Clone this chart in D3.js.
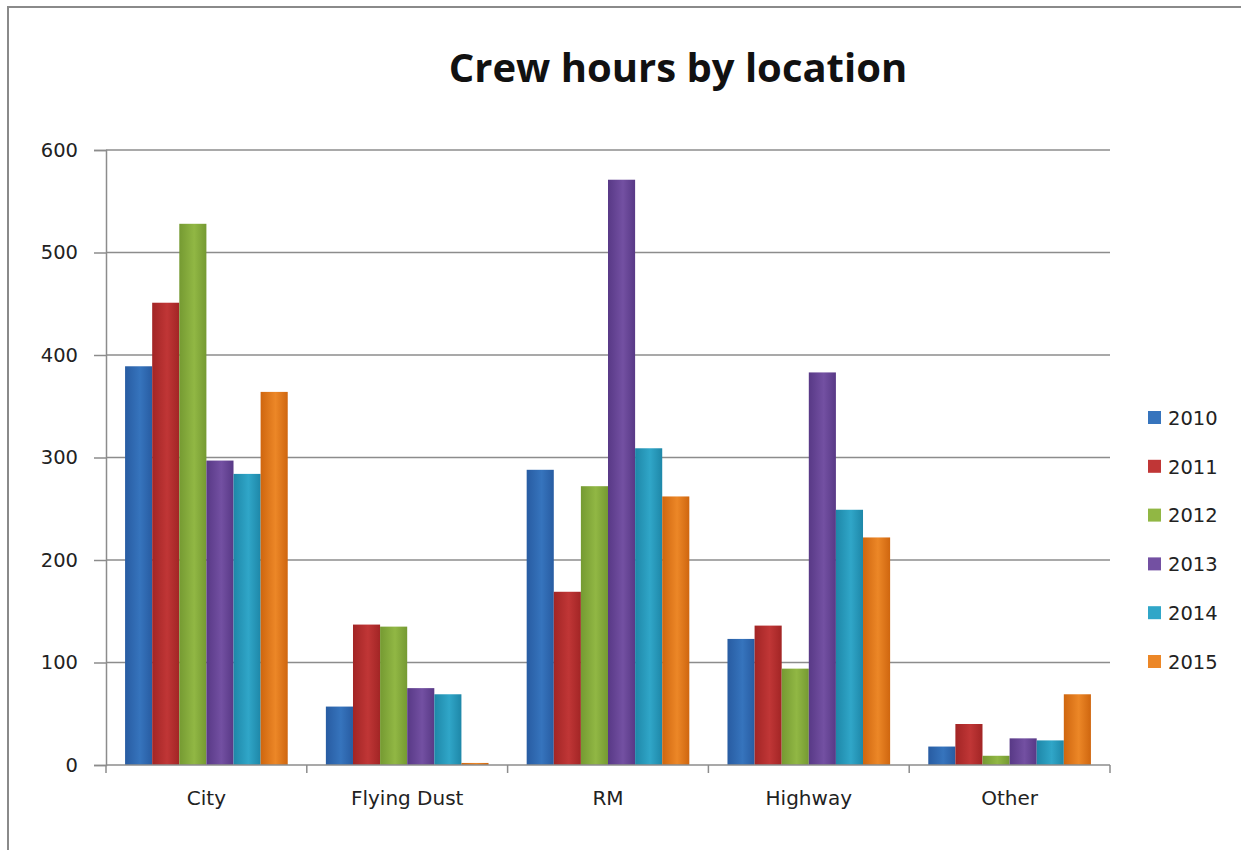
<!DOCTYPE html>
<html lang="en">
<head>
<meta charset="UTF-8">
<title>Crew hours by location</title>
<script src="https://d3js.org/d3.v7.min.js"></script>
<style>
  body { margin: 0; background: #fff; }
  svg { display: block; }
</style>
</head>
<body>
<svg width="1241" height="850"></svg>
<script>
  // data
  const locations = ["City", "Flying Dust", "RM", "Highway", "Other"];
  const years = ["2010", "2011", "2012", "2013", "2014", "2015"];
  const hours2010 = [389, 57, 288, 123, 18];
  const hours2011 = [451, 137, 169, 136, 40];
  const hours2012 = [528, 135, 272, 94, 9];
  const hours2013 = [297, 75, 571, 383, 26];
  const hours2014 = [284, 69, 309, 249, 24];
  const hours2015 = [364, 2, 262, 222, 69];
  const yTicks = [0, 100, 200, 300, 400, 500, 600];

  const series = [hours2010, hours2011, hours2012, hours2013, hours2014, hours2015];
  // dark edge / light middle for each year
  const colors = [
    ["#285ca2", "#3674bd"],
    ["#a22525", "#c03636"],
    ["#759a32", "#91b744"],
    ["#583986", "#7350a2"],
    ["#1e87a8", "#30a6c8"],
    ["#cf660f", "#ec8727"]
  ];

  const svg = d3.select("svg");
  const margin = { top: 150, left: 106, right: 131, bottom: 85 };
  const W = 1241, H = 850;
  const font = "DejaVu Sans, Verdana, sans-serif";

  // frame
  svg.append("rect")
    .attr("x", 8).attr("y", 7)
    .attr("width", W + 10).attr("height", H + 10)
    .attr("fill", "#fff").attr("stroke", "#8a8a8a").attr("stroke-width", 2);

  const x0 = d3.scaleBand()
    .domain(locations)
    .range([margin.left, W - margin.right])
    .paddingInner(0.19).paddingOuter(0.095);
  const band = d3.scaleBand()
    .domain(locations)
    .range([margin.left, W - margin.right]);
  const x1 = d3.scaleBand()
    .domain(years)
    .range([0, x0.bandwidth()]);
  const y = d3.scaleLinear()
    .domain([0, 600])
    .range([H - margin.bottom, margin.top]);

  // gradients
  const defs = svg.append("defs");
  colors.forEach((c, i) => {
    const g = defs.append("linearGradient").attr("id", "g" + i)
      .attr("x1", 0).attr("x2", 1).attr("y1", 0).attr("y2", 0);
    g.append("stop").attr("offset", "0%").attr("stop-color", c[0]);
    g.append("stop").attr("offset", "55%").attr("stop-color", c[1]);
    g.append("stop").attr("offset", "100%").attr("stop-color", c[0]);
  });

  // gridlines
  svg.append("g")
    .selectAll("line")
    .data(yTicks.filter(d => d > 0))
    .join("line")
    .attr("x1", margin.left).attr("x2", W - margin.right)
    .attr("y1", d => y(d)).attr("y2", d => y(d))
    .attr("stroke", "#8c8c8c").attr("stroke-width", 1.5);

  // bars
  years.forEach((yr, i) => {
    svg.append("g")
      .selectAll("rect")
      .data(series[i])
      .join("rect")
      .attr("x", (d, j) => x0(locations[j]) + x1(yr))
      .attr("y", d => y(d))
      .attr("width", x1.bandwidth())
      .attr("height", d => y(0) - y(d))
      .attr("fill", "url(#g" + i + ")");
  });

  // y axis
  const yAxis = svg.append("g")
    .attr("transform", `translate(${margin.left},0)`)
    .call(d3.axisLeft(y).tickValues(yTicks).tickSize(12).tickPadding(16));
  yAxis.select(".domain").attr("stroke", "#8c8c8c").attr("stroke-width", 1.5);
  yAxis.selectAll(".tick line").attr("stroke", "#8c8c8c").attr("stroke-width", 1.5);
  yAxis.selectAll("text")
    .attr("font-family", font)
    .attr("font-size", 19.5).attr("fill", "#222");

  // x axis: ticks at the category boundaries
  const bounds = locations.map(d => band(d)).concat([W - margin.right]);
  const xAxis = svg.append("g");
  xAxis.append("line")
    .attr("x1", margin.left).attr("x2", W - margin.right)
    .attr("y1", y(0)).attr("y2", y(0))
    .attr("stroke", "#8c8c8c").attr("stroke-width", 1.5);
  xAxis.selectAll(".tk")
    .data(bounds)
    .join("line")
    .attr("x1", d => d).attr("x2", d => d)
    .attr("y1", y(0)).attr("y2", y(0) + 8)
    .attr("stroke", "#8c8c8c").attr("stroke-width", 1.5);
  xAxis.selectAll("text")
    .data(locations)
    .join("text")
    .attr("x", d => band(d) + band.bandwidth() / 2)
    .attr("y", y(0) + 40)
    .attr("text-anchor", "middle")
    .attr("font-family", font)
    .attr("font-size", 20).attr("fill", "#222")
    .text(d => d);

  // title
  svg.append("text")
    .attr("x", 678).attr("y", 82)
    .attr("text-anchor", "middle")
    .attr("font-family", "Open Sans, sans-serif")
    .attr("font-weight", "bold")
    .attr("font-size", 40)
    .attr("fill", "#111")
    .text("Crew hours by location");

  // legend
  const legend = svg.append("g")
    .selectAll("g")
    .data(years)
    .join("g")
    .attr("transform", (d, i) => `translate(1148,${417 + i * 48.8})`);
  legend.append("rect")
    .attr("x", 0).attr("y", -6)
    .attr("width", 13).attr("height", 13)
    .attr("fill", (d, i) => colors[i][1]);
  legend.append("text")
    .attr("x", 20).attr("y", 1)
    .attr("dy", "0.35em")
    .attr("font-family", font)
    .attr("font-size", 19.5).attr("fill", "#222")
    .text(d => d);
</script>
</body>
</html>
